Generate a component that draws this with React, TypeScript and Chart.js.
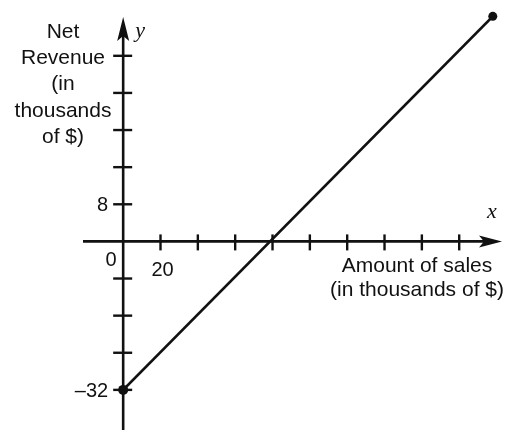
import React, { useEffect, useRef } from "react";
import { Chart, registerables } from "chart.js";

Chart.register(...registerables);

// ---- data ----
const lineX: number[] = [0, 198];
const lineY: number[] = [-32, 48.5];
const xTickValues: number[] = [20, 40, 60, 80, 100, 120, 140, 160, 180];
const yTickValues: number[] = [-32, -24, -16, -8, 8, 16, 24, 32, 40];
const xTickLabels: { value: number; label: string }[] = [{ value: 20, label: "20" }];
const yTickLabels: { value: number; label: string }[] = [
  { value: 8, label: "8" },
  { value: -32, label: "\u201332" },
];
const originLabel = "0";
const yTitleLines: string[] = ["Net", "Revenue", "(in", "thousands", "of $)"];
const xTitleLines: string[] = ["Amount of sales", "(in thousands of $)"];

const INK = "#111";
const SANS = '"Liberation Sans", Arial, sans-serif';
const SERIF = '"Liberation Serif", "DejaVu Serif", serif';

const axesPlugin = {
  id: "mathAxes",
  beforeDatasetsDraw(chart: any) {
    const ctx: CanvasRenderingContext2D = chart.ctx;
    const xs = chart.scales.x;
    const ys = chart.scales.y;
    const ox = xs.getPixelForValue(0);
    const oy = ys.getPixelForValue(0);
    ctx.save();
    ctx.strokeStyle = INK;
    ctx.fillStyle = INK;
    ctx.lineWidth = 2.6;

    // x axis
    ctx.beginPath();
    ctx.moveTo(83, oy);
    ctx.lineTo(488, oy);
    ctx.stroke();
    // x arrow
    ctx.beginPath();
    ctx.moveTo(502, oy);
    ctx.lineTo(479, oy - 6);
    ctx.lineTo(484, oy);
    ctx.lineTo(479, oy + 6);
    ctx.closePath();
    ctx.fill();

    // y axis
    ctx.beginPath();
    ctx.moveTo(ox, 430);
    ctx.lineTo(ox, 30);
    ctx.stroke();
    // y arrow
    ctx.beginPath();
    ctx.moveTo(ox, 17);
    ctx.lineTo(ox - 6, 41);
    ctx.lineTo(ox, 36);
    ctx.lineTo(ox + 6, 41);
    ctx.closePath();
    ctx.fill();

    // ticks
    ctx.lineWidth = 2.4;
    xTickValues.forEach((v) => {
      const px = xs.getPixelForValue(v);
      ctx.beginPath();
      ctx.moveTo(px, oy - 7);
      ctx.lineTo(px, oy + 9);
      ctx.stroke();
    });
    yTickValues.forEach((v) => {
      const py = ys.getPixelForValue(v);
      ctx.beginPath();
      ctx.moveTo(ox - 10, py);
      ctx.lineTo(ox + 9, py);
      ctx.stroke();
    });

    // tick labels
    ctx.font = `20px ${SANS}`;
    ctx.textBaseline = "alphabetic";
    ctx.textAlign = "center";
    xTickLabels.forEach((t) => {
      ctx.fillText(t.label, xs.getPixelForValue(t.value) + 2, oy + 35);
    });
    ctx.textAlign = "right";
    yTickLabels.forEach((t) => {
      ctx.fillText(t.label, ox - 15, ys.getPixelForValue(t.value) + 7);
    });
    ctx.textAlign = "center";
    ctx.fillText(originLabel, ox - 12, oy + 25);

    // axis titles
    ctx.font = `21px ${SANS}`;
    ctx.textAlign = "center";
    yTitleLines.forEach((s, i) => {
      ctx.fillText(s, 63, 38 + i * 26.2);
    });
    xTitleLines.forEach((s, i) => {
      ctx.fillText(s, 417, 272 + i * 24);
    });

    // variable names
    ctx.font = `italic 22px ${SERIF}`;
    ctx.textAlign = "left";
    ctx.fillText("y", ox + 12, 37);
    ctx.fillText("x", 487, 218);

    ctx.restore();
  },
};

export default function App() {
  const canvasRef = useRef<HTMLCanvasElement | null>(null);

  useEffect(() => {
    const canvas = canvasRef.current;
    if (!canvas) return;
    const chart = new Chart(canvas, {
      type: "line",
      data: {
        datasets: [
          {
            data: lineX.map((x, i) => ({ x, y: lineY[i] })),
            borderColor: INK,
            backgroundColor: INK,
            borderWidth: 2.8,
            pointRadius: [5, 4.5],
            pointBorderWidth: 0,
            pointBackgroundColor: INK,
            fill: false,
            tension: 0,
            clip: false as any,
          },
        ],
      },
      options: {
        responsive: false,
        animation: false,
        layout: { padding: 0 },
        plugins: {
          legend: { display: false },
          title: { display: false },
          tooltip: { enabled: false },
        },
        scales: {
          x: { type: "linear", min: -63.3, max: 204, display: false },
          y: { type: "linear", min: -40, max: 50.95, display: false },
        },
      },
      plugins: [axesPlugin],
    });
    return () => chart.destroy();
  }, []);

  return (
    <div style={{ position: "absolute", left: 0, top: 0, width: 509, height: 432, background: "#fff" }}>
      <canvas ref={canvasRef} width={509} height={432} />
    </div>
  );
}
